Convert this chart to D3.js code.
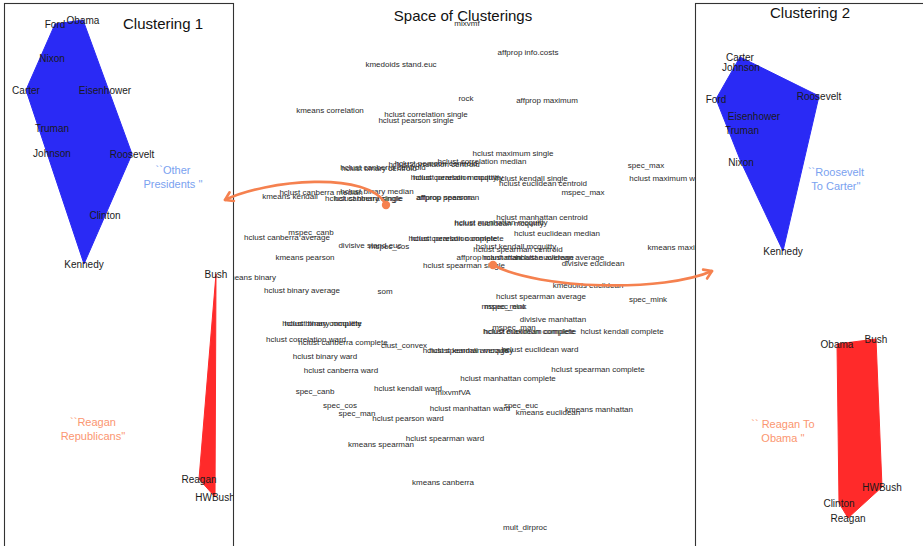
<!DOCTYPE html>
<html>
<head>
<meta charset="utf-8">
<script src="https://cdn.jsdelivr.net/npm/d3@7"></script>
<style>
  html, body { margin: 0; padding: 0; background: #fff; }
  svg { display: block; font-family: "Liberation Sans", Arial, Helvetica, sans-serif; }
</style>
</head>
<body>
<svg id="chart" width="923" height="546"></svg>
<script>
// ---- Space of clusterings: method labels and their 2-D embedding coordinates ----
const methodLabels = [
  "mixvmf", "affprop info.costs", "kmedoids stand.euc", "rock", "affprop maximum",
  "kmeans correlation", "hclust correlation single", "hclust pearson single",
  "hclust maximum single", "hclust correlation median", "spec_max",
  "hclust pearson centroid", "hclust correlation centroid", "hclust binary centroid",
  "hclust canberra centroid", "hclust pearson mcquitty", "hclust correlation mcquitty",
  "hclust kendall single", "hclust euclidean centroid", "hclust maximum ward", "mspec_max",
  "hclust canberra median", "hclust binary median", "kmeans kendall",
  "hclust canberra single", "hclust binary single", "affprop pearson", "affprop spearman",
  "hclust manhattan centroid", "hclust manhattan mcquitty", "hclust euclidean mcquitty",
  "hclust euclidean median", "mspec_canb", "hclust canberra average",
  "hclust pearson complete", "hclust correlation complete", "divisive stand.euc", "mspec_cos",
  "hclust kendall mcquitty", "hclust spearman centroid", "kmeans maximum", "kmeans pearson",
  "affprop manhattan", "hclust manhattan average", "hclust euclidean average",
  "divisive euclidean", "hclust spearman single", "kmeans binary", "kmedoids euclidean",
  "hclust binary average", "som", "hclust spearman average", "spec_mink",
  "mspec_mink", "mspec_euc", "divisive manhattan", "hclust binary complete",
  "hclust binary mcquitty", "mspec_man", "hclust euclidean complete",
  "hclust maximum complete", "hclust kendall complete", "hclust correlation ward",
  "hclust canberra complete", "clust_convex", "hclust spearman mcquitty",
  "hclust kendall average", "hclust euclidean ward", "hclust binary ward",
  "hclust spearman complete", "hclust canberra ward", "hclust manhattan complete",
  "hclust kendall ward", "spec_canb", "mixvmfVA", "spec_cos", "spec_euc",
  "hclust manhattan ward", "kmeans manhattan", "kmeans euclidean", "spec_man",
  "hclust pearson ward", "hclust spearman ward", "kmeans spearman", "kmeans canberra",
  "mult_dirproc"
];
const methodX = [
  0.4, 6.5, -6.2, 0.3, 8.4,
  -13.3, -3.7, -4.7,
  5.0, 1.9, 18.3,
  -2.7, -2.9, -8.4,
  -8.0, -0.8, -0.6,
  6.9, 8.0, 20.5, 12.0,
  -14.2, -8.6, -17.3,
  -9.9, -9.5, -1.9, -1.5,
  7.9, 3.8, 3.6,
  9.4, -15.2, -17.6,
  -0.9, -0.7, -9.3, -7.4,
  5.3, 5.5, 21.7, -15.8,
  2.6, 6.5, 9.7,
  13.0, 0.1, -21.3, 12.5,
  -16.1, -7.8, 7.8, 18.5,
  4.1, 4.2, 9.0, -14.1,
  -14.0, 5.1, 6.6,
  6.7, 15.9, -15.7,
  -12.0, -5.9, 0.5,
  0.6, 7.7, -13.8,
  13.5, -12.2, 4.5,
  -5.5, -14.8, -1.0, -12.3, 5.8,
  0.7, 13.6, 8.5, -10.6,
  -5.5, -1.8, -8.2, -2.0,
  6.2
];
const methodY = [
  25.0, 22.1, 20.9, 17.5, 17.3,
  16.3, 15.9, 15.3,
  12.0, 11.2, 10.8,
  11.0, 10.9, 10.5,
  10.6, 9.6, 9.6,
  9.5, 9.0, 9.5, 8.1,
  8.1, 8.2, 7.7,
  7.5, 7.5, 7.6, 7.6,
  5.6, 5.1, 5.0,
  4.0, 4.1, 3.6,
  3.5, 3.5, 2.8, 2.7,
  2.7, 2.4, 2.6, 1.6,
  1.6, 1.6, 1.6,
  1.0, 0.8, -0.4, -1.2,
  -1.7, -1.8, -2.3, -2.6,
  -3.3, -3.3, -4.6, -5.0,
  -5.0, -5.4, -5.8,
  -5.8, -5.8, -6.6,
  -6.9, -7.2, -7.7,
  -7.7, -7.6, -8.3,
  -9.6, -9.7, -10.5,
  -11.5, -11.8, -11.9, -13.2, -13.2,
  -13.5, -13.6, -13.9, -14.0,
  -14.5, -16.5, -17.1, -20.9,
  -25.4
];

// ---- Clustering 1 ----
const presidents1 = ["Ford", "Obama", "Nixon", "Carter", "Eisenhower", "Truman", "Johnson",
  "Roosevelt", "Clinton", "Kennedy", "Bush", "Reagan", "HWBush"];
const pres1X = [-6.3, -3.5, -6.6, -9.2, -1.3, -6.6, -6.6, 1.4, -1.3, -3.4, 9.8, 8.1, 9.7];
const pres1Y = [24.9, 25.3, 21.5, 18.3, 18.3, 14.5, 12.0, 11.9, 5.8, 0.9, -0.1, -20.6, -22.4];
const pres1Cluster = [1, 1, 1, 1, 1, 1, 1, 1, 1, 1, 2, 2, 2];
const notes1 = [
  { lines: ["``Other", "Presidents ''"], x: 5.5, y: 10.3, cluster: 1 },
  { lines: ["``Reagan", "Republicans''"], x: -2.5, y: -14.9, cluster: 2 }
];

// ---- Clustering 2 ----
const presidents2 = ["Carter", "Johnson", "Ford", "Roosevelt", "Eisenhower", "Truman", "Nixon",
  "Kennedy", "Obama", "Bush", "HWBush", "Clinton", "Reagan"];
const pres2X = [-6.9, -6.8, -9.3, 1.0, -5.5, -6.7, -6.8, -2.6, 2.8, 6.7, 7.3, 3.0, 3.9];
const pres2Y = [21.6, 20.6, 17.4, 17.7, 15.7, 14.3, 11.1, 2.2, -7.1, -6.6, -21.4, -23.0, -24.5];
const pres2Cluster = [1, 1, 1, 1, 1, 1, 1, 1, 2, 2, 2, 2, 2];
const notes2 = [
  { lines: ["``Roosevelt", "To Carter''"], x: 2.7, y: 10.1, cluster: 1 },
  { lines: ["`` Reagan To", "Obama ''"], x: -2.6, y: -15.1, cluster: 2 }
];

// ---- arrows linking points in the space of clusterings to the two panels ----
const arrows = [
  { from: [-7.7, 6.8], c1: [-9.3, 10.3], c2: [-19.8, 9.3], to: [-23.8, 7.3] },
  { from: [3.0, 0.8], c1: [7.7, -1.7], c2: [20.2, -1.9], to: [24.9, 0.2] }
];

const clusterFill = { 1: "#2a2af5", 2: "#ff2a2a" };
const noteColour = { 1: "#7aa2f0", 2: "#fb9670" };
const arrowColour = "#f5814f";

const svg = d3.select("#chart");
const W = 923, H = 546;

// shared vertical scale, one horizontal scale per region
const y = d3.scaleLinear().domain([-27.3, 27.3]).range([H, 0]);
const xMid = d3.scaleLinear().domain([-25, 25]).range([213, 713]);
const xLeft = d3.scaleLinear().domain([-11.4, 11.6]).range([4, 234]);
const xRight = d3.scaleLinear().domain([-11.4, 11.4]).range([695, 923]);

// middle: title and method labels
svg.append("text")
  .attr("x", xMid(0)).attr("y", 16).attr("dy", "0.35em")
  .attr("text-anchor", "middle").attr("font-size", 15).attr("fill", "#111")
  .text("Space of Clusterings");

svg.append("g").selectAll("text")
  .data(methodLabels.map((d, i) => ({ label: d, x: methodX[i], y: methodY[i] })))
  .join("text")
  .attr("x", d => xMid(d.x)).attr("y", d => y(d.y)).attr("dy", "0.35em")
  .attr("text-anchor", "middle").attr("font-size", 8).attr("fill", "#2a2a2a")
  .text(d => d.label);

// side panels drawn over the middle region
function panel(id, left, right, title, titleX, titleY, names, px, py, cl, notes, xs) {
  const g = svg.append("g");
  svg.append("defs").append("clipPath").attr("id", id)
    .append("rect").attr("x", left).attr("y", 3.5).attr("width", right - left).attr("height", H + 20);
  g.append("rect").attr("x", left).attr("y", 3.5).attr("width", right - left).attr("height", H + 20)
    .attr("fill", "#fff").attr("stroke", "#333").attr("stroke-width", 1.1);
  const inner = g.append("g").attr("clip-path", `url(#${id})`);
  const pts = names.map((n, i) => ({ name: n, x: px[i], y: py[i], c: cl[i] }));
  for (const c of [1, 2]) {
    const hull = d3.polygonHull(pts.filter(p => p.c === c).map(p => [xs(p.x), y(p.y)]));
    inner.append("path").attr("d", "M" + hull.join("L") + "Z")
      .attr("fill", clusterFill[c]).attr("stroke", clusterFill[c]).attr("stroke-width", 1);
  }
  inner.selectAll("text.name").data(pts).join("text").attr("class", "name")
    .attr("x", d => xs(d.x)).attr("y", d => y(d.y)).attr("dy", "0.35em")
    .attr("text-anchor", "middle").attr("font-size", 10).attr("fill", "#1a1a1a")
    .text(d => d.name);
  notes.forEach(n => {
    n.lines.forEach((t, k) => {
      inner.append("text").attr("x", xs(n.x)).attr("y", y(n.y) + k * 14).attr("dy", "0.35em")
        .attr("text-anchor", "middle").attr("font-size", 11).attr("fill", noteColour[n.cluster])
        .text(t);
    });
  });
  inner.append("text").attr("x", titleX).attr("y", titleY).attr("dy", "0.35em")
    .attr("text-anchor", "middle").attr("font-size", 15).attr("fill", "#111").text(title);
}

panel("clipL", 4.5, 233.5, "Clustering 1", 163, 24, presidents1, pres1X, pres1Y, pres1Cluster, notes1, xLeft);
panel("clipR", 695.5, 935, "Clustering 2", 810, 13, presidents2, pres2X, pres2Y, pres2Cluster, notes2, xRight);

// arrows on top of everything
const ag = svg.append("g");
arrows.forEach(a => {
  const p = [a.from, a.c1, a.c2, a.to].map(d => [xMid(d[0]), y(d[1])]);
  const path = d3.path();
  path.moveTo(...p[0]);
  path.bezierCurveTo(...p[1], ...p[2], ...p[3]);
  ag.append("path").attr("d", path.toString()).attr("fill", "none")
    .attr("stroke", arrowColour).attr("stroke-width", 2.6).attr("stroke-linecap", "round");
  ag.append("circle").attr("cx", p[0][0]).attr("cy", p[0][1]).attr("r", 4.2).attr("fill", arrowColour);
  const ang = Math.atan2(p[3][1] - p[2][1], p[3][0] - p[2][0]);
  const L = 9, spread = Math.PI / 5.5;
  const head = d3.path();
  head.moveTo(p[3][0] - L * Math.cos(ang - spread), p[3][1] - L * Math.sin(ang - spread));
  head.lineTo(p[3][0], p[3][1]);
  head.lineTo(p[3][0] - L * Math.cos(ang + spread), p[3][1] - L * Math.sin(ang + spread));
  ag.append("path").attr("d", head.toString()).attr("fill", "none")
    .attr("stroke", arrowColour).attr("stroke-width", 2.6)
    .attr("stroke-linecap", "round").attr("stroke-linejoin", "round");
});
</script>
</body>
</html>
